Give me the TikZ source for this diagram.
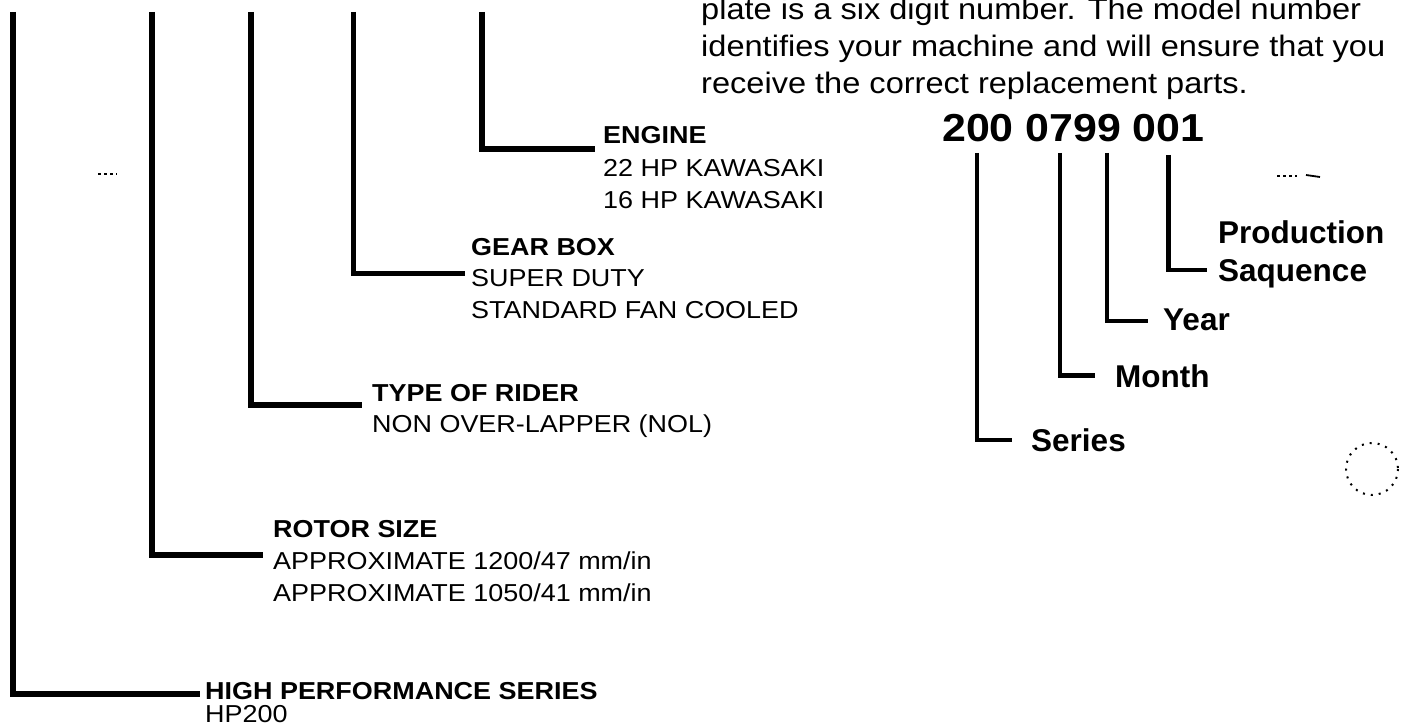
\documentclass[tikz,border=0pt]{standalone}
\usepackage{fontspec}
\setmainfont{Liberation Sans}
\newfontfamily\widesans[FakeStretch=1.1]{Liberation Sans}
\usetikzlibrary{calc}
\tikzset{
  lbl/.style={anchor=base west, inner sep=0pt, font=\widesans\fontsize{24.5}{29}\selectfont},
  lblb/.style={anchor=base west, inner sep=0pt, font=\widesans\bfseries\fontsize{24.5}{29}\selectfont},
  para/.style={anchor=base west, inner sep=0pt, font=\widesans\fontsize{29.6}{37}\selectfont},
  numb/.style={anchor=base west, inner sep=0pt, font=\widesans\bfseries\fontsize{39}{46}\selectfont},
  rlbl/.style={anchor=base west, inner sep=0pt, font=\bfseries\fontsize{31.5}{36}\selectfont},
  wire/.style={line width=6pt, line cap=butt, line join=miter},
  thinwire/.style={line width=4.5pt, line cap=butt, line join=miter},
  speck/.style={line width=1.8pt, dash pattern=on 3pt off 3pt}
}
\begin{document}
\begin{tikzpicture}[x=1pt,y=-1pt]
\useasboundingbox (0,0) rectangle (1406,727);
\clip (0,0) rectangle (1406,727);

% paragraph (its first line is cut by the top edge, as in the scan)
\node[para] (p1) at (701,20) {plate is a six digit number. The model number};
\node[para] (p2) at (701,57) {identifies your machine and will ensure that you};
\node[para] (p3) at (701,94) {receive the correct replacement parts.};

% left labels
\node[lblb] (engine) at (603,143.5) {ENGINE};
\node[lbl]  (eng1)   at (603,177) {22 HP KAWASAKI};
\node[lbl]  (eng2)   at (603,209) {16 HP KAWASAKI};
\node[lblb] (gear)   at (471,255.5) {GEAR BOX};
\node[lbl]  (gear1)  at (471,287) {SUPER DUTY};
\node[lbl]  (gear2)  at (471,319) {STANDARD FAN COOLED};
\node[lblb] (rider)  at (372,401.5) {TYPE OF RIDER};
\node[lbl]  (rider1) at (372,432) {NON OVER-LAPPER (NOL)};
\node[lblb] (rotor)  at (273,537) {ROTOR SIZE};
\node[lbl]  (rotor1) at (273,569.5) {APPROXIMATE 1200/47 mm/in};
\node[lbl]  (rotor2) at (273,601) {APPROXIMATE 1050/41 mm/in};
\node[lblb] (hps)    at (205,699) {HIGH PERFORMANCE SERIES};
\node[lbl]  (hp)     at (205,722) {HP200};

% left connectors
\coordinate (tEng)   at (482,12);
\coordinate (tGear)  at (353,12);
\coordinate (tRider) at (251,12);
\coordinate (tRotor) at (151.5,12);
\coordinate (tHps)   at (13,12);
\coordinate (eEng)   at ($(engine.base west)+(-8,5.5)$);
\coordinate (eGear)  at ($(gear1.base west)+(-6,-13.5)$);
\coordinate (eRider) at ($(rider.base west)+(-10,3.5)$);
\coordinate (eRotor) at ($(rotor1.base west)+(-10,-14.5)$);
\coordinate (eHps)   at ($(hps.base west)+(-5,-5)$);
\draw[wire, line width=6.5pt] (tEng) |- (eEng);
\draw[wire, line width=5pt] (tGear) |- (eGear);
\draw[wire] (tRider) |- (eRider);
\draw[wire] (tRotor) |- (eRotor);
\draw[wire] (tHps) |- (eHps);

% model number
\node[numb] (num) at (942,142) {200 0799 001};
\node[rlbl] (prod)  at (1218,244) {Production};
\node[rlbl] (seq)   at (1218,282) {Saquence};
\node[rlbl] (year)  at (1163,331) {Year};
\node[rlbl] (month) at (1115,388) {Month};
\node[rlbl] (ser)   at (1031,451) {Series};

\coordinate (tSer)   at (977,153);
\coordinate (tMonth) at (1060,153);
\coordinate (tYear)  at (1107,153);
\coordinate (tProd)  at (1168.5,155);
\coordinate (eSer)   at ($(ser.base west)+(-19,-11)$);
\coordinate (eMonth) at ($(month.base west)+(-20,-12.5)$);
\coordinate (eYear)  at ($(year.base west)+(-15,-10)$);
\coordinate (eProd)  at ($(seq.base west)+(-11,-12)$);
\draw[thinwire, line width=3.8pt] (tSer) |- (eSer);
\draw[thinwire] (tMonth) |- (eMonth);
\draw[thinwire] (tYear) |- (eYear);
\draw[thinwire] (tProd) |- (eProd);

% specks of the scan
\draw[speck] (98,174) -- (117,174);
\draw[speck] (1277,176) -- (1297,176);
\draw[line width=1.8pt] (1306,175) -- (1320,177);
\draw[line width=2pt, dash pattern=on 2pt off 6pt] (1372,469) circle (26);
\end{tikzpicture}
\end{document}
